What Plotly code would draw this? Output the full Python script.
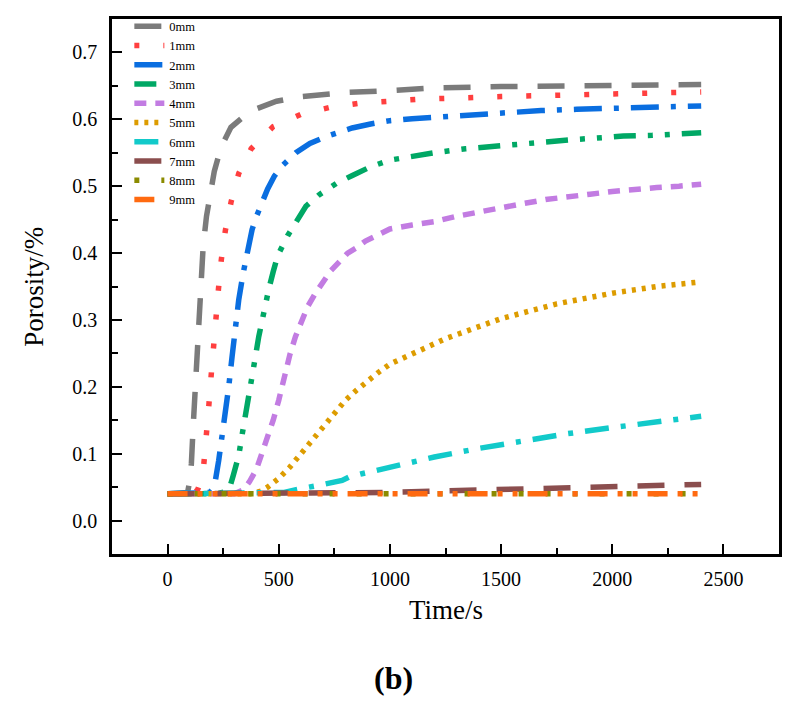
import plotly.graph_objects as go

# ---------------- data ----------------
series_names = ["0mm", "1mm", "2mm", "3mm", "4mm", "5mm", "6mm", "7mm", "8mm", "9mm"]

t_0mm = [0, 50, 90, 100, 107, 115, 125, 132, 140, 150, 160, 175, 190, 210, 240, 285, 370, 490, 600, 800, 1000, 1200, 1500, 1800, 2100, 2400]
v_0mm = [0.040, 0.040, 0.042, 0.060, 0.085, 0.140, 0.200, 0.260, 0.300, 0.360, 0.410, 0.455, 0.487, 0.522, 0.558, 0.588, 0.612, 0.627, 0.634, 0.640, 0.643, 0.647, 0.649, 0.650, 0.651, 0.652]

t_1mm = [0, 80, 120, 135, 150, 163, 177, 186, 196, 205, 216, 229, 242, 260, 286, 320, 376, 475, 604, 733, 864, 1000, 1130, 1500, 2000, 2400]
v_1mm = [0.040, 0.040, 0.041, 0.046, 0.060, 0.084, 0.129, 0.174, 0.217, 0.260, 0.304, 0.347, 0.391, 0.434, 0.477, 0.519, 0.556, 0.589, 0.608, 0.618, 0.624, 0.627, 0.630, 0.634, 0.638, 0.641]

t_2mm = [0, 150, 190, 205, 215, 230, 245, 260, 275, 290, 305, 320, 340, 360, 380, 400, 425, 450, 480, 520, 577, 640, 720, 830, 913, 1000, 1100, 1280, 1400, 1555, 1680, 1840, 1966, 2114, 2250, 2400]
v_2mm = [0.040, 0.040, 0.042, 0.048, 0.060, 0.090, 0.125, 0.160, 0.200, 0.245, 0.290, 0.330, 0.370, 0.405, 0.435, 0.455, 0.478, 0.496, 0.515, 0.532, 0.550, 0.564, 0.575, 0.587, 0.593, 0.598, 0.601, 0.605, 0.608, 0.610, 0.613, 0.615, 0.616, 0.618, 0.618, 0.620]

t_3mm = [0, 220, 260, 280, 295, 320, 333, 349, 365, 380, 395, 410, 425, 440, 455, 475, 495, 540, 577, 622, 681, 763, 831, 913, 1000, 1100, 1200, 1340, 1500, 1590, 1700, 1840, 1930, 2050, 2180, 2270, 2400]
v_3mm = [0.040, 0.040, 0.043, 0.050, 0.067, 0.097, 0.124, 0.153, 0.185, 0.213, 0.245, 0.275, 0.300, 0.319, 0.346, 0.372, 0.396, 0.426, 0.446, 0.470, 0.487, 0.505, 0.516, 0.529, 0.539, 0.545, 0.550, 0.556, 0.561, 0.564, 0.567, 0.570, 0.572, 0.575, 0.576, 0.578, 0.580]

t_4mm = [0, 300, 340, 368, 400, 425, 450, 475, 500, 525, 550, 575, 600, 630, 665, 700, 735, 770, 810, 850, 890, 940, 1000, 1100, 1200, 1300, 1400, 1500, 1600, 1700, 1800, 1900, 2000, 2100, 2200, 2300, 2400]
v_4mm = [0.040, 0.040, 0.046, 0.058, 0.077, 0.100, 0.125, 0.150, 0.180, 0.215, 0.248, 0.275, 0.296, 0.320, 0.340, 0.357, 0.374, 0.386, 0.400, 0.408, 0.418, 0.426, 0.436, 0.442, 0.447, 0.455, 0.462, 0.468, 0.474, 0.480, 0.485, 0.488, 0.492, 0.496, 0.498, 0.500, 0.503]

t_5mm = [0, 380, 420, 450, 500, 550, 600, 650, 700, 750, 800, 850, 900, 950, 1000, 1040, 1250, 1500, 1750, 2000, 2200, 2400]
v_5mm = [0.040, 0.040, 0.044, 0.050, 0.063, 0.080, 0.100, 0.120, 0.143, 0.163, 0.180, 0.195, 0.209, 0.222, 0.234, 0.240, 0.272, 0.302, 0.324, 0.340, 0.350, 0.357]

t_6mm = [0, 450, 525, 605, 650, 700, 785, 816, 874, 964, 1025, 1200, 1400, 1600, 1800, 2000, 2200, 2400]
v_6mm = [0.040, 0.040, 0.042, 0.048, 0.050, 0.054, 0.060, 0.065, 0.070, 0.077, 0.082, 0.095, 0.108, 0.120, 0.130, 0.139, 0.148, 0.156]

t_7mm = [0, 800, 1000, 1200, 1400, 1600, 1800, 2000, 2200, 2400]
v_7mm = [0.040, 0.040, 0.042, 0.044, 0.046, 0.048, 0.050, 0.051, 0.053, 0.054]

t_8mm = [0, 600, 1200, 1800, 2400]
v_8mm = [0.040, 0.040, 0.040, 0.040, 0.040]

t_9mm = [0, 600, 1200, 1800, 2400]
v_9mm = [0.040, 0.040, 0.040, 0.040, 0.040]

x_tick_values = [0, 500, 1000, 1500, 2000, 2500]
y_tick_values = [0.0, 0.1, 0.2, 0.3, 0.4, 0.5, 0.6, 0.7]

x_title = "Time/s"
y_title = "Porosity/%"
panel_label = "<b>(b)</b>"

# ---------------- styles ----------------
times = [t_0mm, t_1mm, t_2mm, t_3mm, t_4mm, t_5mm, t_6mm, t_7mm, t_8mm, t_9mm]
values = [v_0mm, v_1mm, v_2mm, v_3mm, v_4mm, v_5mm, v_6mm, v_7mm, v_8mm, v_9mm]
colors = ["#7b7b7b", "#ff3f3f", "#0a6ee0", "#00a865", "#c27ce2",
          "#dd9c00", "#12caca", "#8b4e4e", "#8b8b00", "#ff6a10"]
dashes = ["27px,20px",
          "5px,24px",
          "28px,12px,5px,12px",
          "22px,12px,5px,12px,5px,12px",
          "12px,9px",
          "4px,6px",
          "24px,12px,5px,12px",
          "27px,20px",
          "5px,22px",
          "20px,10px,5px,10px,5px,10px"]

SERIF = "Liberation Serif, Times New Roman, serif"

fig = go.Figure()
for name, t, v, c, d in zip(series_names, times, values, colors, dashes):
    fig.add_trace(go.Scatter(x=t, y=v, mode="lines", name=name,
                             line=dict(color=c, width=5.5, dash=d)))

axis_common = dict(
    showline=True, linecolor="black", linewidth=2.5, mirror=True,
    showgrid=False, zeroline=False,
    ticks="inside", ticklen=10, tickwidth=2, tickcolor="black",
    tickfont=dict(family=SERIF, size=20, color="black"),
)

fig.update_xaxes(range=[-250, 2750], tickvals=x_tick_values,
                 minor=dict(ticks="inside", ticklen=6, tickwidth=1.5,
                            tickcolor="black", dtick=250, tick0=0),
                 ticklabelstandoff=5,
                 **axis_common)
fig.update_yaxes(range=[-0.05, 0.75], tickvals=y_tick_values, tickformat=".1f",
                 minor=dict(ticks="inside", ticklen=6, tickwidth=1.5,
                            tickcolor="black", dtick=0.05, tick0=0),
                 ticklabelstandoff=8,
                 **axis_common)

fig.update_layout(
    width=794, height=710,
    margin=dict(l=112, r=12, t=14, b=156),
    paper_bgcolor="white", plot_bgcolor="white",
    showlegend=True,
    legend=dict(x=0.026, y=1.014, xanchor="left", yanchor="top",
                bgcolor="rgba(0,0,0,0)", borderwidth=0,
                font=dict(family=SERIF, size=12.5, color="black"),
                tracegroupgap=0),
    annotations=[
        dict(text=x_title, xref="paper", yref="paper", x=0.5, y=-0.104,
             xanchor="center", yanchor="middle", showarrow=False,
             font=dict(family=SERIF, size=27, color="black")),
        dict(text=y_title, xref="paper", yref="paper", x=-0.118, y=0.5,
             xanchor="center", yanchor="middle", showarrow=False, textangle=-90,
             font=dict(family=SERIF, size=27, color="black")),
        dict(text=panel_label, xref="paper", yref="paper", x=0.422, y=-0.232,
             xanchor="center", yanchor="middle", showarrow=False,
             font=dict(family=SERIF, size=32, color="black")),
    ],
)

fig.write_html("out.html")
